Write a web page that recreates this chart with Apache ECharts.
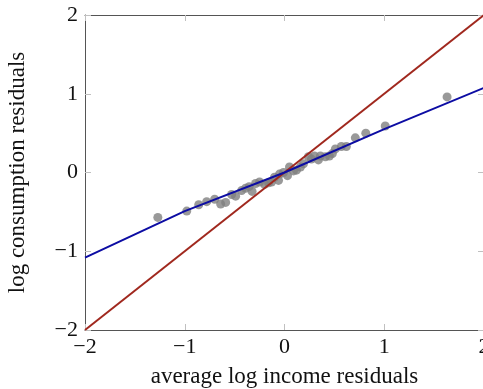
<!DOCTYPE html>
<html><head><meta charset="utf-8">
<script src="https://cdn.jsdelivr.net/npm/echarts@6/dist/echarts.min.js"></script>
<style>html,body{margin:0;padding:0;background:#fff}#c{width:483px;height:389px}</style>
</head><body><div id="c"></div>
<script>
var pointsX = [-1.27,-0.98,-0.86,-0.78,-0.70,-0.64,-0.59,-0.53,-0.49,-0.43,-0.39,-0.355,-0.325,-0.29,-0.25,-0.20,-0.16,-0.13,-0.10,-0.06,-0.05,-0.01,0.03,0.05,0.09,0.12,0.16,0.19,0.24,0.27,0.30,0.34,0.36,0.41,0.45,0.48,0.51,0.57,0.62,0.71,0.815,1.01,1.63];
var pointsY = [-0.57,-0.49,-0.41,-0.37,-0.34,-0.40,-0.38,-0.28,-0.30,-0.23,-0.20,-0.18,-0.24,-0.14,-0.12,-0.15,-0.13,-0.12,-0.06,-0.10,-0.02,0.00,-0.04,0.07,0.02,0.03,0.07,0.11,0.20,0.17,0.21,0.16,0.21,0.20,0.21,0.24,0.30,0.33,0.33,0.44,0.50,0.59,0.96];
var fitX = [-2,-1,0,1,2];
var fitY = [-1.08,-0.49,0,0.55,1.075];
var diagX = [-2,2];
var diagY = [-2,2];
var ticks = [-2,-1,0,1,2];

function fmt(v){ return String(v).replace('-', '\u2212'); }
function zip(a,b){ return a.map(function(v,i){return [v,b[i]];}); }

var font = 'Liberation Serif';
var chart = echarts.init(document.getElementById('c'));
var baseAxis = {
  type:'value', min:-2, max:2, interval:1,
  axisLine:{show:true, onZero:false, lineStyle:{color:'#555', width:1}},
  axisTick:{show:true, inside:true, length:6, lineStyle:{color:'#c0c0c0', width:1}},
  splitLine:{show:false}
};
chart.setOption({
  animation:false,
  grid:{left:85, top:15, width:399, height:315, outerBoundsMode:'none', containLabel:false},
  xAxis:[
    Object.assign({}, baseAxis, {position:'bottom',
      name:'average log income residuals', nameLocation:'middle', nameGap:35,
      nameTextStyle:{fontFamily:font, fontSize:23, color:'#111'},
      axisLabel:{formatter:fmt, fontFamily:font, fontSize:22, color:'#111', margin:6}}),
    Object.assign({}, baseAxis, {position:'top', axisLabel:{show:false}})
  ],
  yAxis:[
    Object.assign({}, baseAxis, {position:'left',
      name:'log consumption residuals', nameLocation:'middle', nameGap:56,
      nameTextStyle:{fontFamily:font, fontSize:23, color:'#111'},
      axisLabel:{formatter:fmt, fontFamily:font, fontSize:22, color:'#111', margin:7}}),
    Object.assign({}, baseAxis, {position:'right', axisLabel:{show:false}})
  ],
  series:[
    {type:'scatter', data:zip(pointsX,pointsY), symbolSize:9, itemStyle:{color:'#808080'}, z:2},
    {type:'line', data:zip(diagX,diagY), showSymbol:false, lineStyle:{color:'#a0281e', width:2}, z:3},
    {type:'line', data:zip(fitX,fitY), showSymbol:false, lineStyle:{color:'#0c0ca3', width:2}, z:4}
  ]
});
</script></body></html>
